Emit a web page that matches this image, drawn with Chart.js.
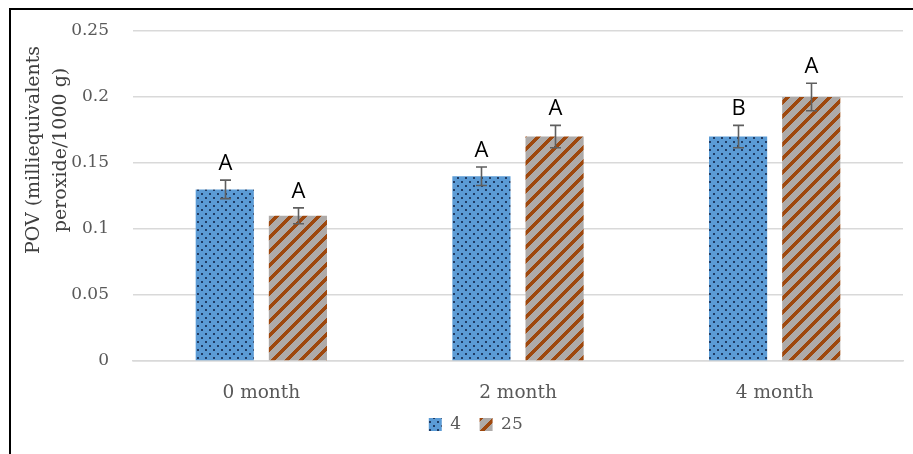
<!DOCTYPE html>
<html>
<head>
<meta charset="utf-8">
<script src="https://cdn.jsdelivr.net/npm/chart.js@4/dist/chart.umd.min.js"></script>
<style>
  html, body { margin: 0; padding: 0; background: #fff; overflow: hidden; }
  #frame {
    position: absolute; left: 9px; top: 8px; width: 1200px; height: 1200px;
    border-left: 2px solid #000; border-top: 2px solid #000; box-sizing: border-box;
  }
  #wrap { position: absolute; left: 0; top: 0; width: 913px; height: 454px; }
</style>
</head>
<body>
<div id="frame"></div>
<div id="wrap"><canvas id="chart" width="913" height="454"></canvas></div>
<script>
// Storage time and temperature groups
const categories = ['0 month', '2 month', '4 month'];
const seriesNames = ['4', '25'];

// Peroxide values (meq/1000 g) and their standard errors
const values4 = [0.13, 0.14, 0.17];
const values25 = [0.11, 0.17, 0.20];
const errors4 = [0.007, 0.007, 0.0085];
const errors25 = [0.006, 0.0085, 0.0104];

// Significance letters printed above each bar
const letters4 = ['A', 'A', 'B'];
const letters25 = ['A', 'A', 'A'];

const yTicks = [0, 0.05, 0.1, 0.15, 0.2, 0.25];
const yTitle = ['POV (milliequivalents', 'peroxide/1000 g)'];

// Fill patterns: dotted blue and brown diagonal hatching on grey
function dotPattern() {
  const c = document.createElement('canvas');
  c.width = 8; c.height = 8;
  const g = c.getContext('2d');
  g.fillStyle = '#5b9bd5';
  g.fillRect(0, 0, 8, 8);
  g.fillStyle = '#203c64';
  g.fillRect(1, 1, 2, 2);
  g.fillRect(5, 5, 2, 2);
  return g.createPattern(c, 'repeat');
}
function hatchPattern() {
  const n = 14;
  const c = document.createElement('canvas');
  c.width = n; c.height = n;
  const g = c.getContext('2d');
  g.fillStyle = '#aeaaa8';
  g.fillRect(0, 0, n, n);
  g.fillStyle = '#9e480e';
  for (let x = 0; x < n; x++) {
    for (let y = 0; y < n; y++) {
      if ((x + y) % n < 5) g.fillRect(x, y, 1, 1);
    }
  }
  return g.createPattern(c, 'repeat');
}

const errorSets = [errors4, errors25];
const letterSets = [letters4, letters25];

// Error bars and letters drawn on top of each bar, plus the two-line axis title
const annotations = {
  id: 'annotations',
  afterDatasetsDraw(chart) {
    const ctx = chart.ctx;
    const y = chart.scales.y;
    ctx.save();
    chart.data.datasets.forEach((ds, i) => {
      const meta = chart.getDatasetMeta(i);
      meta.data.forEach((bar, j) => {
        const v = ds.data[j];
        const e = errorSets[i][j];
        const top = y.getPixelForValue(v + e);
        const bot = y.getPixelForValue(v - e);
        const x = Math.round(bar.x) + 0.5;
        ctx.strokeStyle = '#5f5f5f';
        ctx.lineWidth = 1.6;
        ctx.beginPath();
        ctx.moveTo(x, top); ctx.lineTo(x, bot);
        ctx.moveTo(x - 5.5, top); ctx.lineTo(x + 5.5, top);
        ctx.moveTo(x - 5.5, bot); ctx.lineTo(x + 5.5, bot);
        ctx.stroke();
        ctx.fillStyle = '#000';
        ctx.font = '22px "Open Sans"';
        ctx.textAlign = 'center';
        ctx.textBaseline = 'alphabetic';
        ctx.fillText(letterSets[i][j], x, top - 10);
      });
    });
    ctx.restore();
  },
  afterDraw(chart) {
    const ctx = chart.ctx;
    const area = chart.chartArea;
    const cy = area.top + 119;
    ctx.save();
    ctx.fillStyle = '#404040';
    ctx.font = '19px "DejaVu Serif"';
    ctx.textAlign = 'center';
    ctx.textBaseline = 'alphabetic';
    [39, 66].forEach((bx, k) => {
      ctx.save();
      ctx.translate(bx, cy);
      ctx.rotate(-Math.PI / 2);
      ctx.fillText(yTitle[k], 0, 0);
      ctx.restore();
    });
    ctx.restore();
  }
};

new Chart(document.getElementById('chart'), {
  type: 'bar',
  data: {
    labels: categories,
    datasets: [
      { label: seriesNames[0], data: values4, backgroundColor: dotPattern(), borderWidth: 0 },
      { label: seriesNames[1], data: values25, backgroundColor: hatchPattern(), borderWidth: 0 }
    ]
  },
  options: {
    responsive: false,
    animation: false,
    devicePixelRatio: 1,
    categoryPercentage: 0.57,
    barPercentage: 0.795,
    layout: { padding: { top: 31, right: 10, left: 57, bottom: 11 } },
    plugins: {
      legend: {
        position: 'bottom',
        labels: {
          boxWidth: 13, boxHeight: 13, padding: 10,
          color: '#595959',
          font: { family: '"DejaVu Serif"', size: 17 },
          generateLabels(chart) {
            const items = Chart.defaults.plugins.legend.labels.generateLabels(chart);
            items.forEach(it => { it.text = it.text + '\u2002'; });
            return items;
          }
        }
      },
      tooltip: { enabled: false }
    },
    scales: {
      x: {
        grid: { display: false },
        border: { color: '#d9d9d9', width: 1.5 },
        ticks: { color: '#595959', padding: 13, font: { family: '"DejaVu Serif"', size: 18.5 } },
        afterFit(s) { s.height = 45; }
      },
      y: {
        min: 0, max: 0.25,
        afterBuildTicks(s) { s.ticks = yTicks.map(v => ({ value: v })); },
        grid: { color: '#d9d9d9', lineWidth: 1.5, drawTicks: false },
        border: { display: false },
        ticks: {
          color: '#595959', padding: 24,
          font: { family: '"DejaVu Serif"', size: 17 },
          callback: v => String(v)
        },
        afterFit(s) { s.width = 76; s.paddingTop = 0; s.paddingBottom = 0; }
      }
    }
  },
  plugins: [annotations]
});
</script>
</body>
</html>
